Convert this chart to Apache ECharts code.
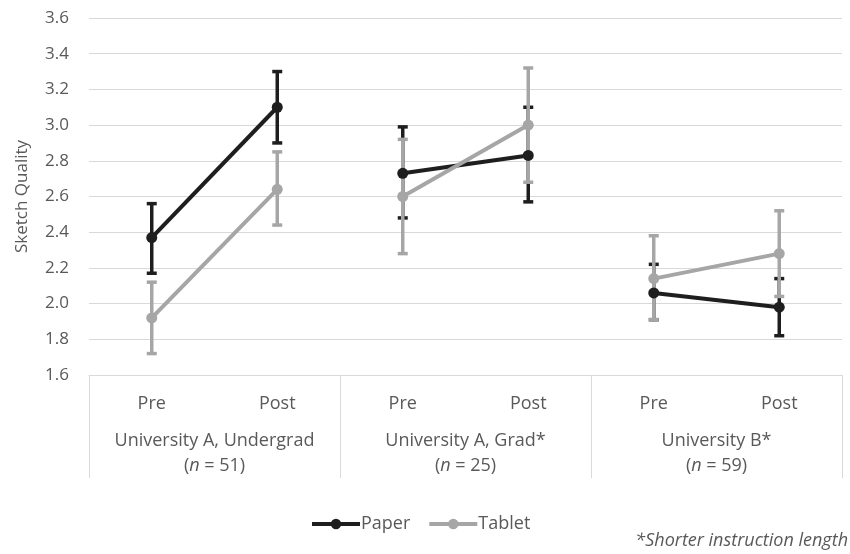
<!DOCTYPE html>
<html>
<head>
<meta charset="utf-8">
<script src="https://cdn.jsdelivr.net/npm/echarts@6/dist/echarts.min.js"></script>
<style>
  html, body { margin: 0; padding: 0; background: #ffffff; }
  #chart { width: 850px; height: 554px; }
</style>
</head>
<body>
<div id="chart"></div>
<script>
// Sketch quality before/after instruction, by cohort and medium
const categories = ['Pre', 'Post', 'Pre', 'Post', 'Pre', 'Post'];
const groups = ['University A, Undergrad', 'University A, Grad*', 'University B*'];
const groupN = [51, 25, 59];
const yTicks = [1.6, 3.6, 0.2]; // min, max, step

const paperMean = [2.37, 3.10, 2.73, 2.83, 2.06, 1.98];
const paperLow  = [2.17, 2.90, 2.48, 2.57, 1.91, 1.82];
const paperHigh = [2.56, 3.30, 2.99, 3.10, 2.22, 2.14];

const tabletMean = [1.92, 2.64, 2.60, 3.00, 2.14, 2.28];
const tabletLow  = [1.72, 2.44, 2.28, 2.68, 1.91, 2.04];
const tabletHigh = [2.12, 2.85, 2.92, 3.32, 2.38, 2.52];

const PAPER = '#1e1e1e';
const TABLET = '#a6a6a6';
const TEXT = '#595959';
const GRID = '#d9d9d9';
const FONT = '"Open Sans", "Noto Sans", sans-serif';

// one line per cohort so that Pre-Post pairs are not joined across cohorts
function pairSeries(name, values, color, z) {
  return groups.map((g, gi) => ({
    name: name,
    type: 'line',
    z: z,
    data: values.map((v, i) => (Math.floor(i / 2) === gi ? v : '-')),
    symbol: 'circle',
    symbolSize: 11,
    connectNulls: false,
    lineStyle: { color: color, width: 4 },
    itemStyle: { color: color },
    emphasis: { disabled: true },
    animation: false
  }));
}

// vertical error bars with caps, drawn beneath the lines
function errorSeries(id, low, high, color, z) {
  return {
    id: id,
    type: 'custom',
    z: z,
    itemStyle: { color: color },
    data: low.map((l, i) => [i, l, high[i]]),
    encode: { x: 0, y: [1, 2] },
    renderItem: function (params, api) {
      const lo = api.coord([api.value(0), api.value(1)]);
      const hi = api.coord([api.value(0), api.value(2)]);
      const half = 5;
      const style = { stroke: color, lineWidth: 3.5, fill: null };
      return {
        type: 'group',
        children: [
          { type: 'line', shape: { x1: lo[0], y1: lo[1], x2: hi[0], y2: hi[1] }, style: style },
          { type: 'line', shape: { x1: hi[0] - half, y1: hi[1], x2: hi[0] + half, y2: hi[1] }, style: style },
          { type: 'line', shape: { x1: lo[0] - half, y1: lo[1], x2: lo[0] + half, y2: lo[1] }, style: style }
        ]
      };
    },
    animation: false
  };
}

const chart = echarts.init(document.getElementById('chart'), null, { renderer: 'canvas' });

chart.setOption({
  backgroundColor: '#ffffff',
  animation: false,
  textStyle: { fontFamily: FONT },
  grid: { left: 89, right: 8, top: 18, bottom: 179 },
  legend: {
    data: ['Paper', 'Tablet'],
    left: 305,
    top: 510,
    itemWidth: 48,
    itemHeight: 13,
    itemGap: 17,
    lineStyle: { width: 4 },
    textStyle: { color: TEXT, fontSize: 18, fontFamily: FONT, padding: [0, 0, 0, -4] }
  },
  xAxis: [
    {
      type: 'category',
      data: categories,
      position: 'bottom',
      boundaryGap: true,
      axisLine: { show: true, lineStyle: { color: GRID, width: 1 } },
      axisTick: { show: false },
      axisLabel: { color: TEXT, fontSize: 18, lineHeight: 22, margin: 18, fontFamily: FONT, interval: 0 }
    },
    {
      type: 'category',
      data: groups,
      position: 'bottom',
      boundaryGap: true,
      axisLine: { show: false },
      axisTick: { show: true, length: 103, interval: 0, lineStyle: { color: GRID, width: 1 } },
      axisLabel: {
        interval: 0,
        margin: 53,
        formatter: function (value, idx) {
          return '{a|' + value + '}\n{a|(}{i|n}{a| = ' + groupN[idx] + ')}';
        },
        rich: {
          a: { color: TEXT, fontSize: 18, lineHeight: 25, fontFamily: FONT },
          i: { color: TEXT, fontSize: 18, lineHeight: 25, fontFamily: FONT, fontStyle: 'italic' }
        }
      }
    }
  ],
  yAxis: {
    type: 'value',
    min: yTicks[0],
    max: yTicks[1],
    interval: yTicks[2],
    name: 'Sketch Quality',
    nameLocation: 'middle',
    nameRotate: 90,
    nameGap: 58,
    nameTextStyle: { color: TEXT, fontSize: 17, fontFamily: FONT },
    axisLine: { show: false },
    axisTick: { show: false },
    axisLabel: {
      color: TEXT, fontSize: 17, margin: 20, fontFamily: FONT,
      formatter: v => v.toFixed(1)
    },
    splitLine: { show: true, lineStyle: { color: GRID, width: 1 } }
  },
  series: [
    errorSeries('paperErr', paperLow, paperHigh, PAPER, 2),
    errorSeries('tabletErr', tabletLow, tabletHigh, TABLET, 3),
    ...pairSeries('Paper', paperMean, PAPER, 4),
    ...pairSeries('Tablet', tabletMean, TABLET, 5)
  ],
  graphic: [
    {
      type: 'text',
      right: 2,
      top: 532,
      style: {
        text: '*Shorter instruction length',
        font: 'italic 18px ' + FONT,
        fill: TEXT
      }
    }
  ]
});
</script>
</body>
</html>
